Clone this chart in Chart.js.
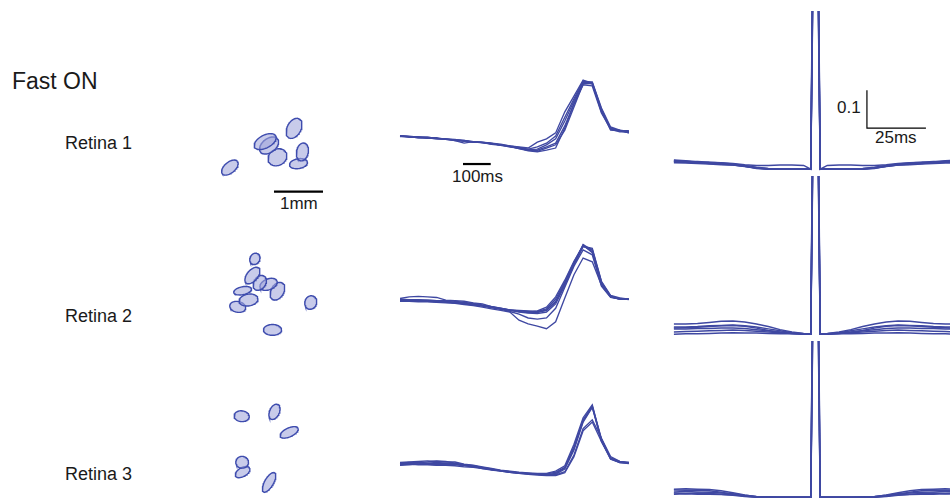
<!DOCTYPE html>
<html>
<head>
<meta charset="utf-8">
<script src="https://cdn.jsdelivr.net/npm/chart.js@4.4.0/dist/chart.umd.min.js"></script>
<style>
  body { margin: 0; background: #fff; }
  #fig { position: relative; width: 950px; height: 501px; overflow: hidden;
         font-family: "Liberation Sans", Arial, sans-serif; color: #1a1a1a; }
  #fig canvas { position: absolute; }
  .lbl { position: absolute; line-height: 1; white-space: nowrap; }
</style>
</head>
<body>
<div id="fig">
  <div class="lbl" style="left:12px;top:70px;font-size:23px">Fast ON</div>
  <div class="lbl" style="left:65px;top:134px;font-size:18px">Retina 1</div>
  <div class="lbl" style="left:65px;top:307px;font-size:18px">Retina 2</div>
  <div class="lbl" style="left:65px;top:465px;font-size:18px">Retina 3</div>
  <div class="lbl" style="left:280px;top:195px;font-size:17px">1mm</div>
  <div class="lbl" style="left:452px;top:168px;font-size:17px">100ms</div>
  <div class="lbl" style="left:837px;top:99px;font-size:17px">0.1</div>
  <div class="lbl" style="left:875px;top:129px;font-size:17px">25ms</div>

  <canvas id="rf1" width="150" height="120" style="left:200px;top:100px"></canvas>
  <canvas id="rf2" width="150" height="120" style="left:200px;top:230px"></canvas>
  <canvas id="rf3" width="150" height="110" style="left:200px;top:390px"></canvas>

  <canvas id="tc1" width="250" height="140" style="left:390px;top:60px"></canvas>
  <canvas id="tc2" width="250" height="140" style="left:390px;top:225px"></canvas>
  <canvas id="tc3" width="250" height="111" style="left:390px;top:390px"></canvas>

  <canvas id="ac1" width="282" height="162" style="left:668px;top:11px"></canvas>
  <canvas id="ac2" width="282" height="162" style="left:668px;top:176px"></canvas>
  <canvas id="ac3" width="282" height="160" style="left:668px;top:341px"></canvas>
</div>
<script>
// receptive field fits (mm): centre, semi-axes, tilt in degrees
var rf1X = [0.61, 1.92, 1.33, 1.41, 1.58, 2.09, 2.01];
var rf1Y = [1.07, 1.87, 1.60, 1.52, 1.28, 1.39, 1.15];
var rf1Major = [0.20, 0.22, 0.245, 0.22, 0.20, 0.185, 0.185];
var rf1Minor = [0.11, 0.14, 0.13, 0.14, 0.165, 0.12, 0.10];
var rf1Angle = [40, 62, 28, 38, 30, 78, 10];

var rf2X = [1.12, 1.07, 1.22, 1.40, 1.58, 0.87, 0.99, 0.77, 2.26, 1.48];
var rf2Y = [1.86, 1.52, 1.37, 1.34, 1.20, 1.21, 1.02, 0.88, 0.97, 0.41];
var rf2Major = [0.12, 0.20, 0.165, 0.185, 0.195, 0.185, 0.195, 0.165, 0.14, 0.185];
var rf2Minor = [0.10, 0.11, 0.12, 0.11, 0.13, 0.08, 0.12, 0.11, 0.12, 0.11];
var rf2Angle = [60, 50, 55, 22, 60, 12, 10, -12, 70, 0];

var rf3X = [0.85, 1.52, 1.82, 0.86, 0.87, 1.41];
var rf3Y = [1.71, 1.80, 1.38, 0.77, 0.57, 0.36];
var rf3Major = [0.155, 0.165, 0.20, 0.13, 0.165, 0.225];
var rf3Minor = [0.11, 0.10, 0.09, 0.12, 0.09, 0.09];
var rf3Angle = [-5, 65, 25, 0, 30, 60];

// spike-triggered time courses, one value per stimulus frame (ms before spike)
var frameTimes = [-825, -792, -759, -726, -693, -660, -627, -594, -561, -528, -495, -462, -429,
                  -396, -363, -330, -297, -264, -231, -198, -165, -132, -99, -66, -33, 0];

var tcRetina1 = [
  [-0.04,-0.05,-0.06,-0.06,-0.08,-0.09,-0.10,-0.13,-0.14,-0.15,-0.17,-0.19,-0.22,-0.24,-0.26,-0.15,-0.09,0.02,0.41,0.70,1.00,0.93,0.44,0.11,0.06,0.04],
  [-0.03,-0.04,-0.06,-0.07,-0.07,-0.10,-0.11,-0.12,-0.15,-0.16,-0.18,-0.20,-0.22,-0.25,-0.28,-0.24,-0.17,-0.04,0.31,0.65,0.98,0.96,0.48,0.13,0.07,0.05],
  [-0.05,-0.05,-0.07,-0.07,-0.09,-0.09,-0.12,-0.17,-0.14,-0.16,-0.17,-0.21,-0.23,-0.26,-0.29,-0.28,-0.20,-0.09,0.24,0.61,0.96,0.93,0.41,0.11,0.06,0.02],
  [-0.04,-0.06,-0.06,-0.08,-0.08,-0.10,-0.11,-0.13,-0.15,-0.15,-0.18,-0.20,-0.24,-0.26,-0.30,-0.30,-0.24,-0.17,0.15,0.56,0.94,0.96,0.46,0.09,0.04,0.04],
  [-0.03,-0.05,-0.05,-0.07,-0.09,-0.09,-0.11,-0.12,-0.14,-0.16,-0.19,-0.21,-0.23,-0.27,-0.30,-0.32,-0.26,-0.20,0.07,0.50,0.93,0.94,0.43,0.07,0.06,0.06],
  [-0.04,-0.05,-0.07,-0.06,-0.08,-0.10,-0.12,-0.13,-0.15,-0.16,-0.18,-0.20,-0.23,-0.27,-0.31,-0.33,-0.30,-0.26,0.11,0.56,0.91,0.89,0.39,0.09,0.07,0.02]
];
var tcRetina2 = [
  [-0.01,0.02,0.03,0.02,0.01,-0.04,-0.05,-0.06,-0.09,-0.11,-0.16,-0.20,-0.22,-0.24,-0.26,-0.24,-0.17,0.02,0.33,0.68,0.97,0.86,0.27,0.03,-0.01,-0.02],
  [-0.04,-0.03,-0.03,-0.04,-0.05,-0.05,-0.06,-0.08,-0.10,-0.13,-0.16,-0.19,-0.22,-0.23,-0.24,-0.25,-0.20,-0.02,0.30,0.66,0.98,0.84,0.26,0.02,-0.02,-0.02],
  [-0.05,-0.05,-0.06,-0.06,-0.06,-0.07,-0.08,-0.09,-0.11,-0.14,-0.17,-0.20,-0.23,-0.24,-0.25,-0.26,-0.22,-0.06,0.27,0.64,0.99,0.88,0.28,0.04,-0.01,-0.03],
  [-0.03,-0.04,-0.05,-0.05,-0.07,-0.07,-0.09,-0.10,-0.12,-0.14,-0.16,-0.19,-0.23,-0.26,-0.28,-0.29,-0.26,-0.11,0.23,0.61,0.95,0.90,0.30,0.03,-0.02,-0.02],
  [-0.04,-0.05,-0.04,-0.06,-0.07,-0.08,-0.09,-0.11,-0.13,-0.15,-0.18,-0.21,-0.25,-0.30,-0.37,-0.39,-0.37,-0.19,0.20,0.59,0.89,0.80,0.22,0.01,-0.02,-0.02],
  [-0.06,-0.06,-0.07,-0.07,-0.08,-0.09,-0.10,-0.12,-0.14,-0.17,-0.20,-0.23,-0.26,-0.41,-0.48,-0.52,-0.57,-0.44,0.00,0.43,0.74,0.67,0.24,0.02,-0.02,-0.02],
  [-0.02,-0.03,-0.04,-0.04,-0.05,-0.06,-0.08,-0.10,-0.12,-0.14,-0.17,-0.20,-0.22,-0.25,-0.27,-0.27,-0.23,-0.08,0.26,0.63,0.96,0.92,0.31,0.05,0.00,-0.02]
];
var tcRetina3 = [
  [-0.01,0.00,0.01,0.02,0.01,0.00,0.00,-0.04,-0.06,-0.09,-0.12,-0.15,-0.17,-0.19,-0.20,-0.21,-0.21,-0.17,-0.07,0.33,0.82,1.06,0.40,0.06,0.00,-0.02],
  [-0.04,-0.02,-0.01,0.00,0.02,0.01,-0.02,-0.05,-0.07,-0.10,-0.13,-0.16,-0.18,-0.20,-0.21,-0.22,-0.22,-0.19,-0.10,0.28,0.78,1.04,0.43,0.07,0.01,-0.01],
  [-0.03,-0.03,-0.02,-0.02,-0.01,-0.02,-0.03,-0.05,-0.08,-0.11,-0.14,-0.16,-0.18,-0.20,-0.22,-0.22,-0.23,-0.21,-0.11,0.25,0.76,1.02,0.38,0.05,-0.01,-0.02],
  [-0.06,-0.05,-0.04,-0.04,-0.05,-0.05,-0.05,-0.07,-0.09,-0.11,-0.14,-0.17,-0.19,-0.21,-0.22,-0.23,-0.24,-0.23,-0.13,0.22,0.74,1.01,0.42,0.06,-0.01,-0.03],
  [-0.02,-0.01,-0.02,-0.03,-0.02,-0.03,-0.04,-0.06,-0.08,-0.12,-0.15,-0.17,-0.19,-0.20,-0.21,-0.23,-0.24,-0.24,-0.18,0.13,0.62,0.78,0.44,0.10,0.01,-0.02],
  [-0.05,-0.04,-0.05,-0.05,-0.06,-0.06,-0.07,-0.09,-0.10,-0.12,-0.14,-0.16,-0.19,-0.21,-0.23,-0.24,-0.25,-0.25,-0.20,0.10,0.58,0.74,0.38,0.08,0.00,-0.01]
];

// autocorrelation (symmetric), positive lags in ms; zero lag left out
var acLags = [1, 2, 5, 10, 15, 20, 25, 30, 35, 40, 45, 50, 55, 60];
var acRetina1 = [
  [0.60, 0.000, 0.000, 0.000, 0.000, 0.000, 0.002, 0.008, 0.012, 0.014, 0.015, 0.017, 0.019, 0.021],
  [0.52, 0.001, 0.001, 0.001, 0.000, 0.001, 0.004, 0.010, 0.014, 0.016, 0.018, 0.019, 0.022, 0.024],
  [0.70, 0.000, 0.010, 0.011, 0.011, 0.010, 0.010, 0.012, 0.015, 0.017, 0.018, 0.020, 0.020, 0.023],
  [0.55, 0.000, 0.000, 0.001, 0.000, 0.000, 0.003, 0.007, 0.011, 0.013, 0.016, 0.016, 0.018, 0.019],
  [0.64, 0.001, 0.001, 0.000, 0.001, 0.002, 0.005, 0.009, 0.013, 0.015, 0.015, 0.018, 0.021, 0.020],
  [0.58, 0.000, 0.000, 0.001, 0.001, 0.001, 0.003, 0.008, 0.011, 0.012, 0.014, 0.015, 0.016, 0.017]
];
var acRetina2 = [
  [0.60, 0.001, 0.002, 0.006, 0.012, 0.020, 0.027, 0.032, 0.035, 0.034, 0.031, 0.028, 0.027, 0.027],
  [0.52, 0.000, 0.001, 0.004, 0.009, 0.014, 0.019, 0.022, 0.024, 0.023, 0.022, 0.020, 0.019, 0.019],
  [0.70, 0.000, 0.001, 0.003, 0.006, 0.009, 0.012, 0.015, 0.016, 0.016, 0.015, 0.015, 0.014, 0.014],
  [0.55, 0.000, 0.000, 0.002, 0.004, 0.006, 0.008, 0.010, 0.011, 0.010, 0.009, 0.008, 0.007, 0.006],
  [0.64, 0.000, 0.000, 0.001, 0.001, 0.002, 0.003, 0.003, 0.004, 0.003, 0.002, 0.001, 0.001, 0.000],
  [0.58, 0.000, 0.001, 0.002, 0.005, 0.010, 0.016, 0.021, 0.023, 0.022, 0.020, 0.018, 0.017, 0.016]
];
var acRetina3 = [
  [0.60, 0.000, 0.000, 0.000, 0.000, 0.000, 0.001, 0.006, 0.012, 0.017, 0.020, 0.021, 0.022, 0.021],
  [0.52, 0.000, 0.000, 0.000, 0.000, 0.000, 0.000, 0.003, 0.008, 0.013, 0.017, 0.019, 0.018, 0.019],
  [0.70, 0.000, 0.000, 0.000, 0.000, 0.000, 0.002, 0.005, 0.009, 0.011, 0.013, 0.014, 0.015, 0.014],
  [0.55, 0.000, 0.000, 0.000, 0.000, 0.000, 0.000, 0.002, 0.005, 0.008, 0.010, 0.011, 0.010, 0.011],
  [0.64, 0.000, 0.000, 0.000, 0.000, 0.001, 0.001, 0.004, 0.006, 0.007, 0.008, 0.008, 0.009, 0.008]
];

// scale bars
var barMm = 1;
var barMs = 100;
var barLagMs = 25;
var barAc = 0.1;

var traceBlue = '#3f48a2';
var rfEdge = '#3e4cae';
var rfFill = 'rgba(160, 166, 218, 0.58)';
var pxPerMm = 49;

function baseOptions(xmin, xmax, ymin, ymax) {
  return {
    responsive: false,
    animation: false,
    events: [],
    layout: { padding: 0 },
    plugins: { legend: { display: false }, tooltip: { enabled: false } },
    elements: { point: { radius: 0 }, line: { tension: 0 } },
    scales: {
      x: { type: 'linear', display: false, min: xmin, max: xmax },
      y: { type: 'linear', display: false, min: ymin, max: ymax }
    }
  };
}

// outline of a tilted ellipse as a closed polygon
function ellipsePoints(cx, cy, a, b, deg) {
  var pts = [];
  var r = deg * Math.PI / 180;
  for (var k = 0; k <= 60; k++) {
    var t = 2 * Math.PI * k / 60;
    var u = a * Math.cos(t), v = b * Math.sin(t);
    pts.push({ x: cx + u * Math.cos(r) - v * Math.sin(r), y: cy + u * Math.sin(r) + v * Math.cos(r) });
  }
  return pts;
}

function rfChart(id, xs, ys, major, minor, angle, withBar) {
  var cv = document.getElementById(id);
  var sets = xs.map(function (x, i) {
    return {
      data: ellipsePoints(x, ys[i], major[i], minor[i], angle[i]),
      showLine: true, fill: 'shape',
      borderColor: rfEdge, borderWidth: 1.4, backgroundColor: rfFill
    };
  });
  if (withBar) {
    sets.push({ data: [{ x: 1.51, y: 0.58 }, { x: 1.51 + barMm, y: 0.58 }],
      showLine: true, borderColor: '#000', borderWidth: 2.2, fill: false });
  }
  new Chart(cv, {
    type: 'scatter',
    data: { datasets: sets },
    options: baseOptions(0, cv.width / pxPerMm, 0, cv.height / pxPerMm)
  });
}

function tcChart(id, curves, ymin, ymax, withBar) {
  var sets = curves.map(function (c) {
    return {
      data: frameTimes.map(function (t, i) { return { x: t, y: c[i] }; }),
      showLine: true, borderColor: traceBlue, borderWidth: 1.35, fill: false
    };
  });
  if (withBar) {
    sets.push({ data: [{ x: -598, y: -0.556 }, { x: -598 + barMs, y: -0.556 }],
      showLine: true, borderColor: '#000', borderWidth: 2.2, fill: false });
  }
  new Chart(document.getElementById(id), {
    type: 'scatter',
    data: { datasets: sets },
    options: baseOptions(-861, 40, ymin, ymax)
  });
}

function acChart(id, curves, ymax, withBar) {
  var sets = curves.map(function (c) {
    var pts = [];
    for (var i = acLags.length - 1; i >= 0; i--) pts.push({ x: -acLags[i], y: c[i] });
    pts.push({ x: 0, y: null });
    for (var j = 0; j < acLags.length; j++) pts.push({ x: acLags[j], y: c[j] });
    return { data: pts, showLine: true, spanGaps: false, borderColor: traceBlue, borderWidth: 1.5, fill: false };
  });
  if (withBar) {
    sets.push({ data: [{ x: 21.8, y: 0.108 + barAc }, { x: 21.8, y: 0.108 }, { x: 21.8 + barLagMs, y: 0.108 }],
      showLine: true, borderColor: '#000', borderWidth: 1.2, fill: false });
  }
  new Chart(document.getElementById(id), {
    type: 'scatter',
    data: { datasets: sets },
    options: baseOptions(-62.5, 57.0, -0.01, ymax)
  });
}

rfChart('rf1', rf1X, rf1Y, rf1Major, rf1Minor, rf1Angle, true);
rfChart('rf2', rf2X, rf2Y, rf2Major, rf2Minor, rf2Angle, false);
rfChart('rf3', rf3X, rf3Y, rf3Major, rf3Minor, rf3Angle, false);

tcChart('tc1', tcRetina1, -1.222, 1.370, true);
tcChart('tc2', tcRetina2, -1.241, 1.352, false);
tcChart('tc3', tcRetina3, -0.722, 1.333, false);

acChart('ac1', acRetina1, 0.4163, true);
acChart('ac2', acRetina2, 0.4163, false);
acChart('ac3', acRetina3, 0.411, false);
</script>
</body>
</html>
